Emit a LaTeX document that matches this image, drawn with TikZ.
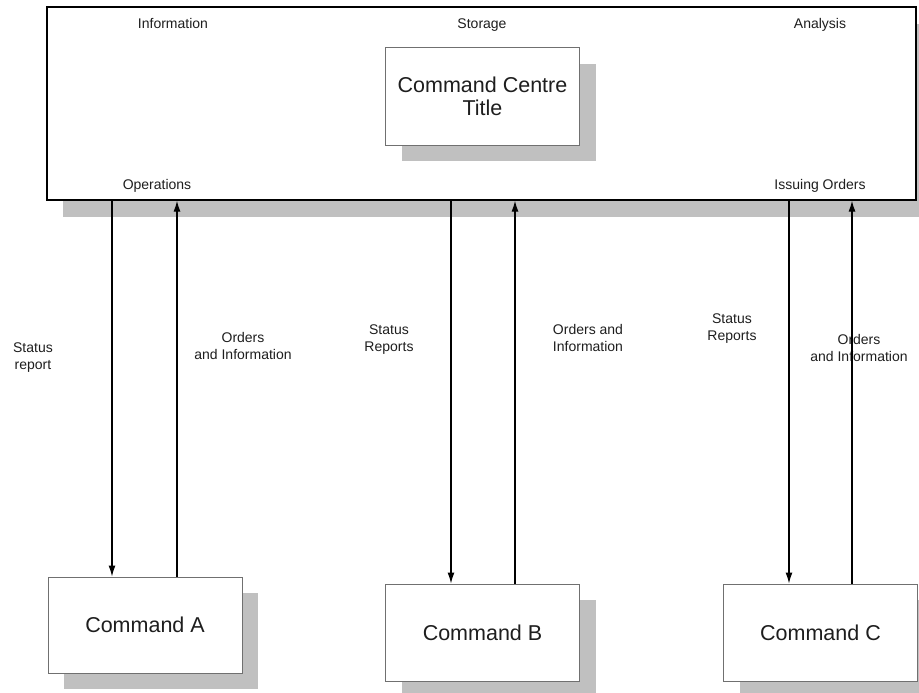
\documentclass[tikz,border=0pt]{standalone}
\usepackage{fontspec}
\setmainfont{Liberation Sans}
\usetikzlibrary{arrows.meta,shadows}
\definecolor{shadowgray}{HTML}{C0C0C0}
\definecolor{edgegray}{HTML}{707070}
\definecolor{inkgray}{HTML}{1E1E1E}
\begin{document}
\begin{tikzpicture}[x=1pt,y=-1pt,
  boxshadow/.style={drop shadow={shadow xshift=16pt, shadow yshift=-16pt, fill=shadowgray, opacity=1}},
  hub/.style={rectangle, draw=black, line width=1.3pt, fill=white, inner sep=0pt,
    minimum width=869pt, minimum height=193pt,
    drop shadow={shadow xshift=16pt, shadow yshift=-17pt, fill=shadowgray, opacity=1}},
  unit/.style={rectangle, draw=edgegray, line width=1pt, fill=white, inner sep=0pt,
    minimum width=194pt, minimum height=97pt, align=center, text=inkgray,
    font=\fontsize{21.5}{23}\selectfont, boxshadow},
  tag/.style={inner sep=0pt, align=center, text=inkgray, font=\fontsize{14}{17}\selectfont},
  flow/.style={draw=black, line width=1.2pt, -{Latex[length=11pt,width=7pt]}}
]
\useasboundingbox (0,0) rectangle (919,693);
\clip (0,0) rectangle (919,693);

% command centre frame and its title box
\node[hub] (hub) at (481.5,103.5) {};
\node[unit] (title) at (482.5,96.5) {Command Centre\\Title};

% functions of the command centre
\node[tag, anchor=base] (info)  at (173,29)  {Information};
\node[tag, anchor=base] (store) at (482,29)  {Storage};
\node[tag, anchor=base] (anal)  at (820,29)  {Analysis};
\node[tag, anchor=base] (ops)   at (157,189) {Operations};
\node[tag, anchor=base] (issue) at (820,189) {Issuing Orders};

% subordinate commands
\node[unit, minimum height=96pt] (cmdA) at (145,625)   {Command A};
\node[unit] (cmdB) at (482.5,632.5) {Command B};
\node[unit] (cmdC) at (820.5,632.5) {Command C};

% connector labels
\node[tag] (lA1) at (33,358)  {Status\\report};
\node[tag] (lA2) at (243,346) {Orders\\and Information};
\node[tag] (lB1) at (389,340) {Status\\Reports};
\node[tag] (lB2) at (588,338) {Orders and\\Information};
\node[tag] (lC1) at (732,329) {Status\\Reports};
\node[tag] (lC2) at (859,348) {Orders\\and Information};

% x positions of the connectors
\coordinate (xA1) at (112,0);
\coordinate (xA2) at (177,0);
\coordinate (xB1) at (451,0);
\coordinate (xB2) at (515,0);
\coordinate (xC1) at (789,0);
\coordinate (xC2) at (852,0);

% reports down, orders up
\draw[flow] (hub.south -| xA1) -- (cmdA.north -| xA1);
\draw[flow] (cmdA.north -| xA2) -- (hub.south -| xA2);
\draw[flow] (hub.south -| xB1) -- (cmdB.north -| xB1);
\draw[flow] (cmdB.north -| xB2) -- (hub.south -| xB2);
\draw[flow] (hub.south -| xC1) -- (cmdC.north -| xC1);
\draw[flow] (cmdC.north -| xC2) -- (hub.south -| xC2);
\end{tikzpicture}
\end{document}
